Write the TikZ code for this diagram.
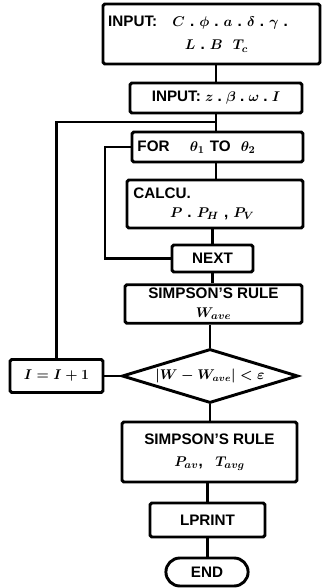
\documentclass[tikz,border=0pt]{standalone}
\usepackage{fontspec}
\setmainfont{Liberation Sans}
\usetikzlibrary{positioning, shapes.geometric, shapes.misc}
\tikzset{
  procbox/.style={draw, line width=2.5pt, rounded corners=1.5pt, font=\fontsize{13}{16}\selectfont\bfseries\boldmath, inner sep=3pt},
  decbox/.style={draw, diamond, aspect=3.26, line width=2.5pt, font=\fontsize{12}{14}\selectfont\bfseries\boldmath, inner sep=0pt},
  termbox/.style={draw, rounded rectangle, line width=2.5pt, font=\fontsize{13}{16}\selectfont\bfseries},
  flowline/.style={line width=2.5pt},
}

\begin{document}
\begin{tikzpicture}[x=0.03cm, y=-0.03cm]
    \useasboundingbox (0,0) rectangle (326,588);
    % main column
    \node[procbox, minimum width=6.51cm, minimum height=1.8cm, text width=6.2cm, align=left] (inp1) at (211.5,34)
      {INPUT:\ \ \ $C$\ .\ $\phi$\ .\ $a$\ .\ $\delta$\ .\ $\gamma$\ .\\[4pt]\hspace*{2.3cm}$L$\ .\ $B$\ \ $T_c$};
    \node[procbox, minimum width=5.16cm, minimum height=0.9cm] (inp2) at (216,98)
      {INPUT:\ $z$\ .\ $\beta$\ .\ $\omega$\ .\ $I$};
    \node[procbox, minimum width=5.13cm, minimum height=0.9cm, text width=4.8cm, align=left] (loop) at (217.5,147)
      {FOR\ \ \ \ $\theta_1$ TO\ \ $\theta_2$};
    \node[procbox, minimum width=5.28cm, minimum height=1.44cm, text width=4.9cm, align=left] (calc) at (215,204)
      {CALCU.\\\hspace*{1.1cm}$P$\ .\ $P_H$\ ,\ $P_V$};
    \node[procbox, minimum width=2.43cm, minimum height=0.81cm] (next) at (212.5,258.5) {NEXT};
    \node[procbox, minimum width=5.31cm, minimum height=1.14cm, align=center] (simp1) at (213.5,304)
      {SIMPSON'S RULE\\$W_{ave}$};
    \node[decbox, minimum width=5.28cm, minimum height=1.62cm] (test) at (210,376)
      {$|W-W_{ave}|<\varepsilon$};
    \node[procbox, minimum width=2.79cm, minimum height=0.99cm] (incr) at (56.5,376) {$I=I+1$};
    \node[procbox, minimum width=5.25cm, minimum height=1.8cm, align=center] (simp2) at (209.5,452)
      {SIMPSON'S RULE\\[3pt]$P_{av}$,\ \ \ $T_{avg}$};
    \node[procbox, minimum width=3.45cm, minimum height=1.02cm] (prt) at (207.5,520) {LPRINT};
    \node[termbox, minimum width=2.7cm, minimum height=0.84cm] (stop) at (207,572) {END};

    % loop corners
    \coordinate (join) at (inp2.south |- 0,122);
    \coordinate (back) at (105,258.5);

    % connectors
    \draw[flowline] (inp1.south -| inp2) -- (inp2.north);
    \draw[flowline] (inp2.south) -- (loop.north -| inp2);
    \draw[flowline] (loop.south -| inp2) -- (calc.north -| inp2);
    \draw[flowline] (calc.south -| next) -- (next.north);
    \draw[flowline] (next.south) -- (simp1.north -| next);
    \draw[flowline] (simp1.south -| test) -- (test.north);
    \draw[flowline] (test.south) -- (simp2.north -| test);
    \draw[flowline] (simp2.south -| prt) -- (prt.north);
    \draw[flowline] (prt.south) -- (stop.north -| prt);
    \draw[flowline] (test.west) -- (incr.east);
    \draw[flowline] (incr.north) |- (join);
    \draw[flowline] (next.west) -- (back) |- (loop.west);
  \end{tikzpicture}
\end{document}
